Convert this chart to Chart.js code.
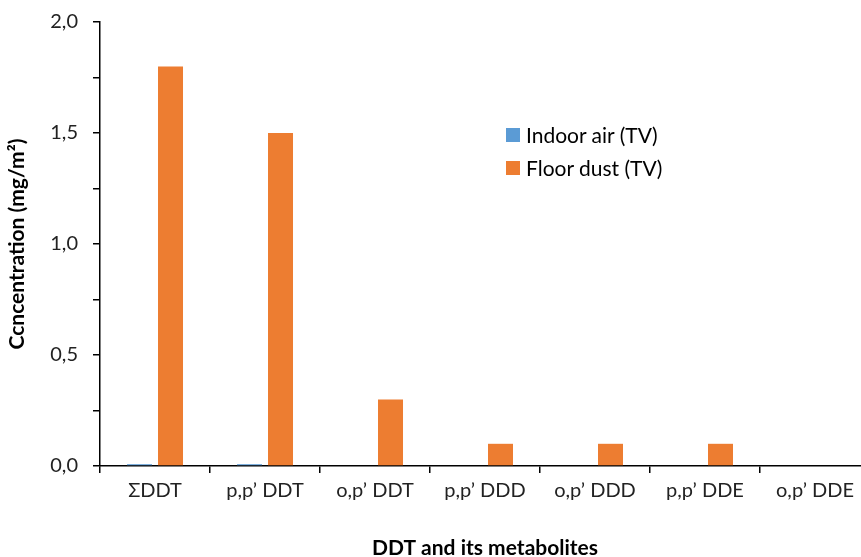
<!DOCTYPE html>
<html>
<head>
<meta charset="utf-8">
<script src="https://cdn.jsdelivr.net/npm/chart.js@4"></script>
<style>
    html, body { margin: 0; padding: 0; background: #fff; overflow: hidden; }
    #wrap { position: relative; width: 872px; height: 557px; }
    #legend { position: absolute; left: 506px; top: 118px; font-family: Lato, sans-serif; font-size: 21px; color: #000; }
    #legend div { display: flex; align-items: center; height: 33px; }
    #legend span.box { display: inline-block; width: 14px; height: 14px; margin-right: 6px; }
</style>
</head>
<body>
<div id="wrap">
    <canvas id="ddtChart" width="872" height="557"></canvas>
    <div id="legend"></div>
</div>
<script>
// DDT and metabolites, indoor air vs floor dust
const categories = ['ΣDDT', 'p,p\u2019 DDT', 'o,p\u2019 DDT', 'p,p\u2019 DDD', 'o,p\u2019 DDD', 'p,p\u2019 DDE', 'o,p\u2019 DDE'];
const indoorAir = [0.008, 0.008, 0, 0, 0, 0, 0];
const floorDust = [1.8, 1.5, 0.3, 0.1, 0.1, 0.1, 0];
const yTicks = [0, 0.5, 1.0, 1.5, 2.0];

const seriesNames = ['Indoor air (TV)', 'Floor dust (TV)'];
const seriesColors = ['#5B9BD5', '#ED7D31'];

const fontFamily = "Lato, 'Liberation Sans', sans-serif";

const ctx = document.getElementById('ddtChart').getContext('2d');
new Chart(ctx, {
    type: 'bar',
    data: {
        labels: categories,
        datasets: [
            { label: seriesNames[0], data: indoorAir, backgroundColor: seriesColors[0] },
            { label: seriesNames[1], data: floorDust, backgroundColor: seriesColors[1] }
        ]
    },
    options: {
        responsive: false,
        animation: false,
        categoryPercentage: 0.564,
        barPercentage: 0.806,
        layout: { padding: { left: 0, right: 2, top: 22, bottom: 0 } },
        scales: {
            x: {
                grid: {
                    display: true,
                    drawOnChartArea: false,
                    tickLength: 7,
                    color: '#000',
                    lineWidth: 1.5
                },
                border: { color: '#000', width: 1.5 },
                ticks: {
                    font: { family: fontFamily, size: 20 },
                    color: '#222',
                    padding: 6,
                    maxRotation: 0,
                    autoSkip: false
                },
                title: {
                    display: true,
                    text: 'DDT and its metabolites',
                    font: { family: fontFamily, size: 21, weight: 'bold', lineHeight: 0.8 },
                    color: '#000',
                    padding: { top: 0, bottom: 0 }
                },
                afterFit: scale => { scale.height = 91; }
            },
            y: {
                min: 0,
                max: 2,
                grid: {
                    drawOnChartArea: false,
                    tickLength: 7,
                    color: '#000',
                    lineWidth: 1.5
                },
                border: { color: '#000', width: 1.5 },
                ticks: {
                    stepSize: 0.25,
                    font: { family: fontFamily, size: 20 },
                    color: '#222',
                    padding: 15,
                    callback: value => yTicks.some(t => Math.abs(t - value) < 1e-9)
                        ? value.toFixed(1).replace('.', ',') : ''
                },
                title: {
                    display: true,
                    text: 'Ccncentration (mg/m\u00B2)',
                    font: { family: fontFamily, size: 21, weight: 'bold' },
                    color: '#000',
                    padding: { top: 5, bottom: 0 }
                },
                afterFit: scale => {
                    scale.width = 100;
                    // top/bottom room comes from the layout padding and the x axis
                    scale.paddingTop = 0;
                    scale.paddingBottom = 0;
                }
            }
        },
        plugins: {
            legend: { display: false },
            tooltip: { enabled: false }
        }
    }
});

// Legend in the upper middle of the plot
const legendEl = document.getElementById('legend');
seriesNames.forEach((name, i) => {
    const row = document.createElement('div');
    const box = document.createElement('span');
    box.className = 'box';
    box.style.background = seriesColors[i];
    row.appendChild(box);
    row.appendChild(document.createTextNode(name));
    legendEl.appendChild(row);
});
</script>
</body>
</html>
